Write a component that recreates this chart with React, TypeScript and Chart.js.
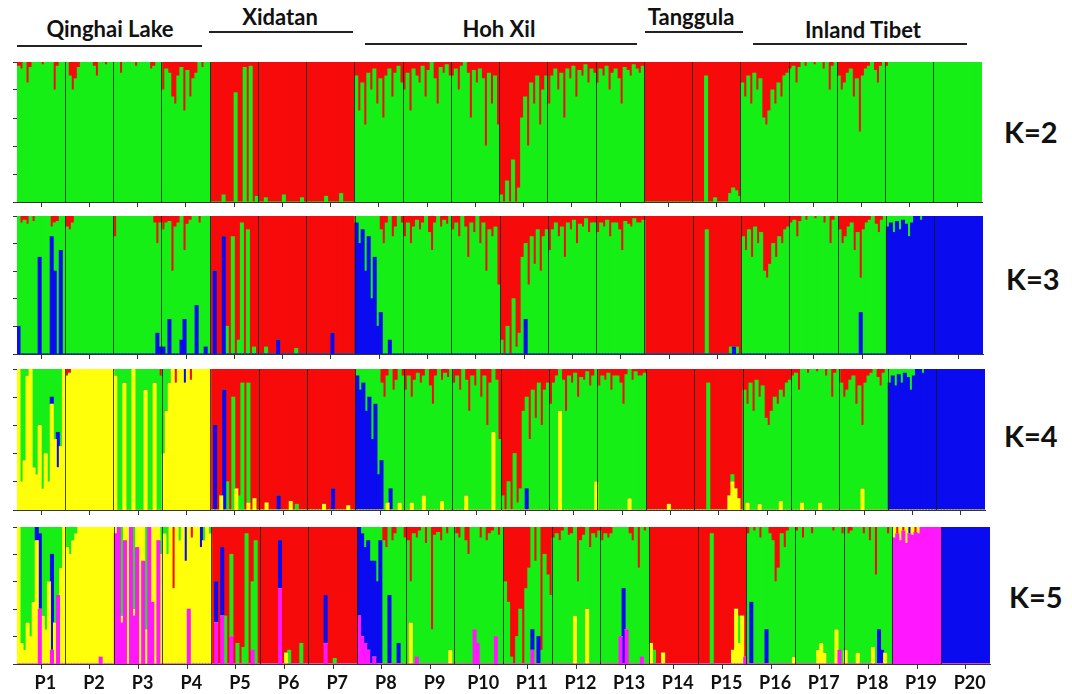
import React, { useEffect, useRef } from 'react';
import { Chart, registerables } from 'chart.js';
Chart.register(...registerables);

// ---------------- DATA ----------------
const POPS = ['P1','P2','P3','P4','P5','P6','P7','P8','P9','P10','P11','P12','P13','P14','P15','P16','P17','P18','P19','P20'];
const GROUPS = ['Qinghai Lake', 'Xidatan', 'Hoh Xil', 'Tanggula', 'Inland Tibet'];
const K_LABELS = ['K=2', 'K=3', 'K=4', 'K=5'];
// clusters stacked bottom -> top
const CLUSTER_ORDER = ['m', 'y', 'b', 'g', 'r'];

// Each population: "base|ind1 ind2 ..." ; "." = pure base cluster,
// "r20b10" = 20% red, 10% blue, remainder base cluster.
const K2_POPS = [
  'g|r3 r5 . r15 r4 . . . r2 . . . r20 r3 . .',
  'g|. r10 r20 r12 r4 . . . . r3 r10 . . r2 . .',
  'g|. . r8 . . . . r3 . . . . r5 r3 . .',
  'g|r20 r5 r8 r25 r30 r10 r4 r35 r6 r25 r12 r8 . r4 . .',
  'r|. . . . g5 . . . g78 . . g96 . g97 . g4',
  'r|. . g3 . . . . . g5 . . . . . g3 .',
  'r|. . . . . . g4 . . . . g6 . . . .',
  'g|r10 r35 r15 r45 r8 r20 r5 r30 r12 r40 r10 r5 r25 r8 r3 r15',
  'g|r20 r8 r35 r5 r10 r15 r3 r25 r6 . r12 r30 r4 r8 r2 r10',
  'g|r10 r5 r20 r3 . r8 r40 r6 r15 r5 r12 r60 r8 r30 r10 r45',
  'g|r95 r100 r85 r100 r70 r100 r90 r40 r25 r60 r15 r30 r10 r45 r20 r10',
  'g|r30 r10 r5 r20 r8 r40 r5 r12 r3 r25 r6 r10 r2 r15 r5 r8',
  'g|r15 r5 r10 r3 r20 r8 r5 r12 r30 r4 r6 r10 r2 r5 r8 r3',
  'r|. . . . . . . . . . . . . . . .',
  'r|. . . . g90 . . g3 . . . . g6 g10 g8 g4',
  'g|r15 r25 r10 r30 r8 r20 r12 r40 r45 r35 r20 r30 r15 r25 r10 r8',
  'g|r5 r3 r15 r4 . r3 . . r2 . . r5 . r20 r3 .',
  'g|r10 r20 r15 r8 r5 r25 r12 r50 r10 r5 r3 . r6 r15 r3 .',
  'g|r3 . . . . . . . . . . . . . . .',
  'g|. . . . . . . . . . . . . . . .',
];

const K3_POPS = [
  'g|b20 r5 r3 r6 . r4 . b70 . . . b85r8 b60r5 r4 b75 .',
  'g|r8 r10 r5 . . . . . . . . . . . . .',
  'g|r15 . . . . . . . . . . . . r5 r20b15 r5b5',
  'g|r10b5 r5 r4b25 r40 r8 r5 b10 r25b25 r6 r3 . b35 r5 . b5 .',
  'r|. b60 . . b85 g20 . g85 . g10 g95 . g90 . g5 .',
  'r|. . g5 . . . b10 . . . . . g4 . . .',
  'r|. . . . . . . . b15 . . . . . . .',
  'g|b95 b80 b90 b60 b85 b40 b70 b20 r10b30 r20 r5 b10 r15 r8 . r5',
  'g|r15 r5 r20 r8 r3 r10 r5 . r12 r25 r5 . r8 r3 r6 .',
  'g|r10 r5 r15 . r8 r30 r5 r12 . r20 r5 r40 r10 r15 r8 r50',
  'g|r90 r100 r80 r100 r60 r95 r85 r30 r20b25 r50 r15 r35 r10 r40 r15 r10',
  'g|r25 r10 r5 r15 r8 r30 r5 r10 r3 r20 r6 r8 r2 r12 r5 r5',
  'g|r12 r5 r8 r3 r15 r5 r5 r10 r25 r4 r6 r8 r2 r5 r5 r3',
  'r|. . . . . . . . . . . . . . . .',
  'r|. . . . g90 . . . . . . . g5 b5 g5 .',
  'g|r15 r25 r10 r30 r8 r20 r12 r40 r45 r35 r20 r30 r15 r20 r10 r8',
  'g|r5 r3 r15 r4 . r3 . . r2 . . r5 . r20 r3 .',
  'g|r10 r20 r15 r8 r5 r25 r12 r45b30 r10 r5 r3 . r6 r12 r3 .',
  'b|g8 g5 g12 g4 g10 g3 g6 g15 g5 . . g3 . . . .',
  'b|. . . . . . . . . . . . . . . .',
];

const K4_POPS = [
  'g|y100 y20 y35 y95 y100 y30 y25 y60 y15 y40 y20 y75b5 y50 b25y30 y45 y100',
  'y|r5 r3 . . . . . . . . . . . . . .',
  'g|y95 . . y90 . . y100 . . . y85 . . y90 . r5',
  'y|g60 g30 g10 . r10 . . b10 . r8 . . . . . .',
  'r|. b60 . y10 b85 g20 . g80 y15 g10 g90 . g85y5 . y8 .',
  'r|. . y5 . . . b10 . . . y6 . g4 . . .',
  'r|. . . . . y4 . . b15 . . . . y3 . .',
  'g|b95 b85 b90 b70 b80 b50 b75 b25 r10b35 r20 r5y5 b15 r15 r8 y5 r5',
  'g|r15 r5 r20y5 r8 r3 r10 r5y10 . r12 r25 r5 . r8y6 r3 r6 .',
  'g|r10 r5 r15 . r8y10 r30 r5 r12 . r20 r5 r40 r10 y55 r8 r50',
  'g|r90 r100 r80 r100 r60 r95 r85 r30 r20b15 r50 r15 r35 r10 r40 r15 r10',
  'g|r25 r10 r5 y70 r8 r30 r5 r10 r3 r20 r6 r8 r2 r12 r5 y20',
  'g|r12 r5 r8 r3 r15 r5 r5 r10 r25 r4 y8 r8 r2 r5 r5 r3',
  'r|. . . . . . . y4 . . . . . . . .',
  'r|. . . . g90 . . . . . . y10 g5y20 y15 y8 .',
  'g|r15 r25y5 r10 r30 r8 r20y4 r12 r35 r40 r30 r20 r25 r15y6 r20 r10 r8',
  'g|r5 r3 r15 y5 . r3 . . r2 y5 . r5 . r20 r3 .',
  'g|r10 r20 r15 r8 r5 r25 r12 r40y15 r10 r5 r3 . r6 r12 r3 .',
  'b|g10 g5 g12 g4 g10 g3 g6 g15 g5 . . g3 . . . .',
  'b|. . . . . . . . . . . . . . . .',
];

const K5_POPS = [
  'g|y100 y15 y10 y30 y20 y45 b10y90 m40b55 y35 y25 y60 m10b70 y30 m50 y70 y100',
  'y|g15 g20 g10 g5 . . . . . . . m5 . . . .',
  'y|m95 m100 g65m30 m90 . m100 g60m35 m85 . m75 g75 m100 m45 . m90 g20',
  'y|g5 g20 . r45 . g10 . b25 m40 r8 . . b15 g10 . g5',
  'r|. m30b30 . b50m35 g35 . m20g60 . g15 . g12 g95 . m10g50 g90 .',
  'r|. . . . . . m55b35 . y8 g10 . . . g15 . .',
  'r|. . . . . m15b35 . . g4 . . . . . . .',
  'g|m35b65 m20b75 m15b70 m10b80 b75 m5b70 b60 b90 r10 r15 b50 r10 r5 b15 . r8',
  'g|r10 r40y30 r5 r8m5 r3 . r12 . r75 r6 r4 r10 . r5 y10 .',
  'g|r5 r8 . r10 r20 . m25 m15 r8 . r10 r5 r3 m20 r6 .',
  'g|r40 r55 r95 r100 r80 r60 r100 r45 r30 b15m10 r25 b20 r90 r20 r35 r50',
  'g|r8 r5 r10 r3 . r6 r5 y35 r40 r10 r6 y40 r15 r5 r8 r3',
  'g|r10 r5 r8 r5 . . m20 b55 m25 r5 r10 . r30 m5 r3 .',
  'r|y15 g10 . . y8 . . . . . . . . . . .',
  'r|. . . . g95 . . . . . . y10 y40 g20y15 y35 m5',
  'g|r5 b45 r3 . r8 . b25 r5 r10 r40 r30 r5 r15 r3 . y5',
  'g|r3 . r8 . . r5 . y10 y15 y8 . . r3 y25 m10 r5',
  'g|y10 r5 r3 . y8 . r5 . r10 y12 r35 b25 b10 y8 r5 .',
  'm|y8 r5 y10 r3 y12 b5 y6 r4 y5 . . . . . . .',
  'b|. . . . . . . . . . . . . . . .',
];

// ---------------- STYLE / LAYOUT ----------------
const COLORS: Record<string, string> = {
  m: '#ff18ff',
  y: '#ffff0a',
  b: '#0b0bf0',
  g: '#16ef16',
  r: '#f70a0a',
};
const FONT = 'Lato, "Open Sans", "DejaVu Sans", sans-serif';
const PLOT_LEFT = 17;
const Y_W = 8;
const PAD_T = 4;
const PAD_R = 10;

const PANEL_LAYOUT = [
  { top: 62, bottom: 202, right: 982, clusters: ['g', 'r'], labels: false, kx: 1004, kBase: 143 },
  { top: 216, bottom: 354, right: 983, clusters: ['b', 'g', 'r'], labels: false, kx: 1006, kBase: 290 },
  { top: 369, bottom: 510, right: 985, clusters: ['y', 'b', 'g', 'r'], labels: false, kx: 1004, kBase: 447 },
  { top: 527, bottom: 664, right: 990, clusters: ['m', 'y', 'b', 'g', 'r'], labels: true, kx: 1009, kBase: 608 },
];
const PANEL_DATA = [K2_POPS, K3_POPS, K4_POPS, K5_POPS];

const GROUP_LAYOUT = [
  { cx: 110, base: 37, x1: 17, x2: 202, ly: 46 },
  { cx: 280, base: 25, x1: 209, x2: 353, ly: 32 },
  { cx: 499, base: 37, x1: 365, x2: 637, ly: 44 },
  { cx: 691, base: 25, x1: 645, x2: 743, ly: 32 },
  { cx: 863, base: 38, x1: 753, x2: 967, ly: 44 },
];
const GROUP_FS = 22;
const K_FS = 29;

type Ind = Record<string, number>;
function parsePop(s: string): Ind[] {
  const [base, rest] = s.split('|');
  const toks = rest.trim().split(/\s+/);
  return toks.map((tok) => {
    const v: Ind = { m: 0, y: 0, b: 0, g: 0, r: 0 };
    let sum = 0;
    if (tok !== '.') {
      const re = /([mybgr])(\d+)/g;
      let mm;
      while ((mm = re.exec(tok)) !== null) {
        v[mm[1]] += +mm[2];
        sum += +mm[2];
      }
    }
    v[base] += Math.max(0, 100 - sum);
    return v;
  });
}

function Panel({ idx }: { idx: number }) {
  const ref = useRef<HTMLCanvasElement>(null);
  const L = PANEL_LAYOUT[idx];
  const xlH = L.labels ? 30 : 8;
  const w = Y_W + (L.right - PLOT_LEFT) + PAD_R;
  const h = PAD_T + (L.bottom - L.top) + xlH;

  useEffect(() => {
    const inds = PANEL_DATA[idx].flatMap(parsePop);
    const labels = inds.map((_, i) => String(i));
    const datasets = CLUSTER_ORDER.filter((c) => L.clusters.includes(c)).map((c) => ({
      label: c,
      data: inds.map((v) => v[c] / 100),
      backgroundColor: COLORS[c],
      borderWidth: 0,
      barPercentage: 1,
      categoryPercentage: 1,
      inflateAmount: 0.5,
      xAxisID: 'x',
      yAxisID: 'y',
    }));
    const chart = new Chart(ref.current as HTMLCanvasElement, {
      type: 'bar',
      data: { labels, datasets },
      options: {
        responsive: false,
        animation: false,
        devicePixelRatio: 1,
        layout: { padding: { left: 0, right: PAD_R, top: PAD_T, bottom: 0 } },
        plugins: { legend: { display: false }, tooltip: { enabled: false } },
        scales: {
          x: { type: 'category', display: false, stacked: true, offset: true },
          y: {
            type: 'linear',
            position: 'left',
            stacked: true,
            min: 0,
            max: 1,
            ticks: { display: false, stepSize: 0.2 },
            grid: { drawOnChartArea: false, drawTicks: true, tickLength: 4, color: '#333' },
            border: { display: true, color: '#333', width: 1 },
            afterFit: (s: any) => { s.width = Y_W; },
          },
          xs: {
            type: 'category',
            labels: POPS,
            position: 'top',
            offset: true,
            ticks: { display: false },
            grid: {
              offset: true,
              z: 1,
              drawOnChartArea: true,
              drawTicks: false,
              lineWidth: 1,
              color: (ctx: any) =>
                ctx.index > 0 && ctx.index < POPS.length ? 'rgba(15,30,15,0.8)' : 'rgba(0,0,0,0)',
            },
            border: { display: false },
            afterFit: (s: any) => { s.height = 0; },
          },
          xl: {
            type: 'category',
            labels: POPS,
            position: 'bottom',
            offset: true,
            ticks: {
              display: L.labels,
              autoSkip: false,
              maxRotation: 0,
              padding: 3,
              labelOffset: 4,
              color: '#111',
              font: { family: FONT, weight: 'bold', size: 18 },
            },
            grid: { offset: false, drawOnChartArea: false, drawTicks: true, tickLength: 5, color: '#333' },
            border: { display: true, color: '#333', width: 1 },
            afterFit: (s: any) => { s.height = xlH; },
          },
        },
      } as any,
    });
    return () => chart.destroy();
  }, []);

  return (
    <canvas
      ref={ref}
      width={w}
      height={h}
      style={{ position: 'absolute', left: PLOT_LEFT - Y_W, top: L.top - PAD_T, width: w, height: h }}
    />
  );
}

export default function App() {
  return (
    <div
      style={{
        position: 'absolute',
        left: 0,
        top: 0,
        width: 1072,
        height: 694,
        background: '#fff',
        overflow: 'hidden',
        fontFamily: FONT,
      }}
    >
      {GROUPS.map((g, i) => {
        const G = GROUP_LAYOUT[i];
        return (
          <React.Fragment key={g}>
            <div
              style={{
                position: 'absolute',
                left: G.cx - 100,
                width: 200,
                top: G.base - 19.5,
                fontSize: GROUP_FS,
                lineHeight: GROUP_FS + 'px',
                fontWeight: 700,
                textAlign: 'center',
                color: '#111',
                whiteSpace: 'nowrap',
              }}
            >
              {g}
            </div>
            <div
              style={{
                position: 'absolute',
                left: G.x1,
                width: G.x2 - G.x1,
                top: G.ly - 1,
                height: 1.6,
                background: '#222',
              }}
            />
          </React.Fragment>
        );
      })}
      {PANEL_LAYOUT.map((L, i) => (
        <React.Fragment key={i}>
          <Panel idx={i} />
          <div
            style={{
              position: 'absolute',
              left: L.kx,
              top: L.kBase - 25.7,
              fontSize: K_FS,
              lineHeight: K_FS + 'px',
              fontWeight: 700,
              color: '#111',
              whiteSpace: 'nowrap',
            }}
          >
            {K_LABELS[i]}
          </div>
        </React.Fragment>
      ))}
    </div>
  );
}
